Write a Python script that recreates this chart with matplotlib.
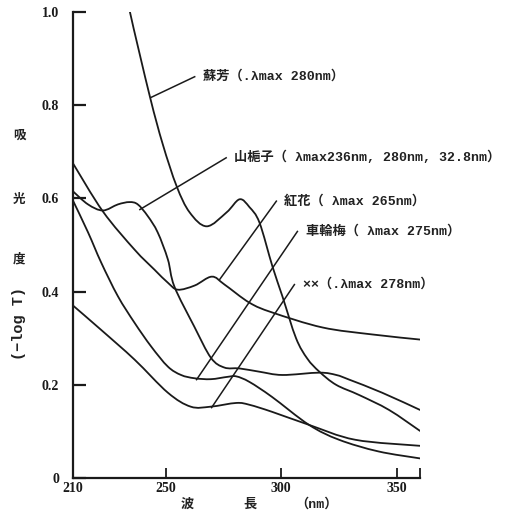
import matplotlib
matplotlib.use("Agg")
import matplotlib.pyplot as plt
import numpy as np
from matplotlib.path import Path
from matplotlib.patches import PathPatch

plt.rcParams['font.family'] = ['Noto Sans CJK JP', 'DejaVu Sans']

# Absorptionsspektre (bølgelængde i nm, absorbans -log T)
suou_nm = [233, 234.6, 243.2, 248.8, 254.8, 260.4, 267.8, 276.4, 282, 286.3, 290.6,
           296.2, 300.5, 306.4, 311.3, 316.5, 323.7, 333.7, 346.6, 360]
suou_abs = [1.05, 1.0, 0.819, 0.716, 0.626, 0.570, 0.540, 0.570, 0.598, 0.581, 0.548,
            0.454, 0.390, 0.300, 0.256, 0.228, 0.200, 0.178, 0.146, 0.101]

kuchinashi_nm = [210, 216.5, 222.9, 229.4, 234.4, 238, 242.3, 246.6, 251, 253.8,
                 262.4, 269.6, 275.4, 282, 290.6, 300.5, 316.5, 323.8, 329.4, 343.6, 360]
kuchinashi_abs = [0.615, 0.587, 0.574, 0.587, 0.592, 0.587, 0.562, 0.527, 0.469, 0.411,
                  0.325, 0.258, 0.237, 0.235, 0.228, 0.221, 0.226, 0.221, 0.211, 0.183, 0.146]

benibana_nm = [210, 222.9, 236.6, 245.2, 251, 255.3, 262.6, 270, 275.5, 286.3,
               296.2, 317.8, 339.3, 360]
benibana_abs = [0.675, 0.572, 0.490, 0.447, 0.419, 0.404, 0.413, 0.432, 0.415, 0.376,
                0.355, 0.323, 0.308, 0.297]

sharinbai_nm = [210, 216.5, 222.2, 229.4, 236.6, 243.8, 251, 256.7, 262.5,
                269.6, 276.8, 280.6, 286.3, 296, 312, 325, 342, 360]
sharinbai_abs = [0.595, 0.527, 0.462, 0.390, 0.333, 0.282, 0.239, 0.221, 0.214,
                 0.212, 0.217, 0.218, 0.206, 0.174, 0.114, 0.082, 0.057, 0.042]

xx_nm = [210, 222.1, 236.6, 251, 260.9, 269.5, 280.6, 286.3, 296, 312, 332, 360]
xx_abs = [0.370, 0.318, 0.254, 0.183, 0.153, 0.153, 0.161, 0.157, 0.142, 0.114, 0.082, 0.069]

# Etiketter med henvisningslinjer: (tekst, linje-start, linje-slut)
labels = ["蘇芳（.λmax 280nm）",
          "山梔子（ λmax236nm, 280nm, 32.8nm）",
          "紅花（ λmax 265nm）",
          "車輪梅（ λmax 275nm）",
          "××（.λmax 278nm）"]
leader_start = [(243.9, 0.817), (238.9, 0.576), (273.4, 0.426), (263.4, 0.211), (269.9, 0.151)]
leader_end = [(262.6, 0.861), (276.2, 0.687), (297.9, 0.594), (307.0, 0.529), (305.7, 0.415)]

x_ticks = [210, 250, 300, 350]
y_ticks = [0, 0.2, 0.4, 0.6, 0.8, 1.0]
y_ticklabels = ["0", "0.2", "0.4", "0.6", "0.8", "1.0"]


def glat_kurve(x, y):
    # Catmull-Rom gennem de aflæste punkter, tegnet som kubiske Bezier-stykker
    p = np.column_stack([x, y]).astype(float)
    verts = [p[0]]
    codes = [Path.MOVETO]
    for i in range(len(p) - 1):
        p0 = p[i - 1] if i > 0 else p[i]
        p1 = p[i]
        p2 = p[i + 1]
        p3 = p[i + 2] if i + 2 < len(p) else p[i + 1]
        verts += [p1 + (p2 - p0) / 6, p2 - (p3 - p1) / 6, p2]
        codes += [Path.CURVE4] * 3
    return Path(verts, codes)


fig = plt.figure(figsize=(5.16, 5.26), dpi=100)
ax = fig.add_axes([0.1415, 0.0913, 0.6725, 0.886])

kurver = [(suou_nm, suou_abs), (kuchinashi_nm, kuchinashi_abs), (benibana_nm, benibana_abs),
          (sharinbai_nm, sharinbai_abs), (xx_nm, xx_abs)]
for nm, a in kurver:
    ax.add_patch(PathPatch(glat_kurve(nm, a), facecolor="none", edgecolor="#1a1a1a",
                           lw=1.3, capstyle="round", joinstyle="round"))

mono = ['Liberation Mono', 'Noto Sans CJK JP']
for tekst, p0, p1 in zip(labels, leader_start, leader_end):
    ax.plot([p0[0], p1[0]], [p0[1], p1[1]], color="#1a1a1a", lw=1.1)
    ax.text(p1[0] + 3.5, p1[1], tekst, fontsize=9.5, fontweight="bold", family=mono,
            va="center", ha="left", color="#222222")

ax.set_xlim(210, 360)
ax.set_ylim(0, 1.0)
for s in ["top", "right"]:
    ax.spines[s].set_visible(False)
for s in ["left", "bottom"]:
    ax.spines[s].set_linewidth(1.6)
    ax.spines[s].set_color("#1a1a1a")

ax.set_xticks(x_ticks + [360])
ax.set_xticklabels([str(t) for t in x_ticks] + [""], fontfamily="Liberation Serif",
                   fontweight="bold", fontsize=10)
ax.set_yticks(y_ticks)
ax.set_yticklabels(y_ticklabels, fontfamily="Liberation Serif", fontweight="bold", fontsize=10)
ax.tick_params(axis="y", direction="in", length=9, width=1.6, pad=10, colors="#1a1a1a")
ax.tick_params(axis="x", direction="in", length=7, width=1.3, pad=3, colors="#1a1a1a")

# Aksetitler
for tegn, y in zip(["吸", "光", "度"], [135, 199, 259]):
    fig.text(19 / 516, 1 - y / 526, tegn, fontsize=9, fontweight="bold",
             ha="center", va="center", color="#222222")
fig.text(19 / 516, 1 - 323 / 526, "(−log T)", fontsize=11, fontweight="bold", family=mono,
         rotation=90, ha="center", va="center", color="#222222")
fig.text(187 / 516, 1 - 504 / 526, "波", fontsize=9.5, fontweight="bold",
         ha="center", va="center", color="#222222")
fig.text(250 / 516, 1 - 504 / 526, "長", fontsize=9.5, fontweight="bold",
         ha="center", va="center", color="#222222")
fig.text(316 / 516, 1 - 504 / 526, "（nm）", fontsize=9.5, fontweight="bold", family=mono,
         ha="center", va="center", color="#222222")

fig.savefig("out.png", dpi=100, facecolor="white")
